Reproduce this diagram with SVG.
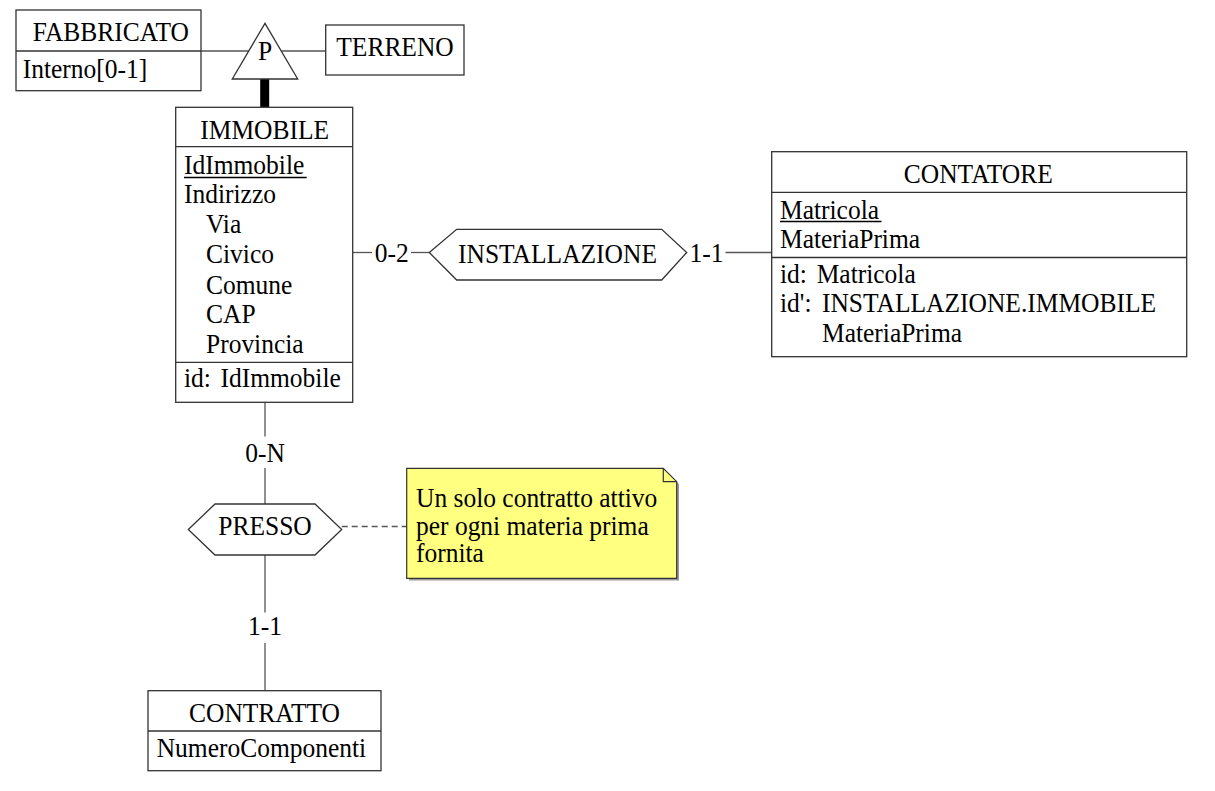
<svg xmlns="http://www.w3.org/2000/svg" width="1215" height="791" viewBox="0 0 1215 791">
<style>
text{font-family:"Liberation Serif","Times New Roman",serif;font-size:25.5px;fill:#000;transform-box:fill-box;transform-origin:50% 80%;transform:scaleY(1.08)}
.c{text-anchor:middle}
.box{fill:#fff;stroke:#333;stroke-width:1.3}
.div{stroke:#333;stroke-width:1.3}
.ln{stroke:#555;stroke-width:1.3;fill:none}
.u{stroke:#000;stroke-width:1.4}
</style>
<rect width="1215" height="791" fill="#fff"/>
<g id="connectors">
<line class="ln" x1="201" y1="51" x2="248.7" y2="51"/>
<line class="ln" x1="281.3" y1="51" x2="325.7" y2="51"/>
<line x1="264.7" y1="79" x2="264.7" y2="107.5" stroke="#000" stroke-width="9"/>
<line class="ln" x1="353" y1="252.5" x2="372" y2="252.5"/>
<line class="ln" x1="411" y1="252.5" x2="429.3" y2="252.5"/>
<text class="c" x="391.7" y="262.5">0-2</text>
<line class="ln" x1="725.5" y1="252.5" x2="771.7" y2="252.5"/>
<text class="c" x="706.5" y="262.5">1-1</text>
<line class="ln" x1="265" y1="402.3" x2="265" y2="436.5"/>
<line class="ln" x1="265" y1="468" x2="265" y2="504"/>
<text class="c" x="265" y="462">0-N</text>
<line class="ln" x1="265" y1="555" x2="265" y2="612.5"/>
<line class="ln" x1="265" y1="643" x2="265" y2="690.7"/>
<text class="c" x="265" y="635">1-1</text>
<line class="ln" x1="341.7" y1="526.5" x2="406.7" y2="526.5" stroke-dasharray="6,4"/>
</g>
<g id="FABBRICATO">
<rect class="box" x="16" y="10" width="185" height="80.7"/>
<line class="div" x1="16" y1="51" x2="201" y2="51"/>
<text class="c" x="110.8" y="40.7">FABBRICATO</text>
<text x="22.7" y="78.3">Interno[0-1]</text>
</g>
<g id="P">
<polygon class="box" points="265,23.3 297.7,79 232.3,79"/>
<text class="c" x="265" y="60">P</text>
</g>
<g id="TERRENO">
<rect class="box" x="325.7" y="25" width="138.3" height="50"/>
<text class="c" x="395" y="56">TERRENO</text>
</g>
<g id="IMMOBILE">
<rect class="box" x="175.7" y="107.3" width="177" height="295"/>
<line class="div" x1="175.7" y1="146.7" x2="352.7" y2="146.7"/>
<line class="div" x1="175.7" y1="362.3" x2="352.7" y2="362.3"/>
<text class="c" x="264.7" y="139">IMMOBILE</text>
<text x="184" y="174">IdImmobile</text>
<line class="u" x1="184" y1="177.5" x2="306.7" y2="177.5"/>
<text x="184" y="203">Indirizzo</text>
<text x="206" y="233">Via</text>
<text x="206" y="263">Civico</text>
<text x="206" y="294">Comune</text>
<text x="206" y="323">CAP</text>
<text x="206" y="353">Provincia</text>
<text x="184" y="387">id:</text>
<text x="220.5" y="387">IdImmobile</text>
</g>
<g id="INSTALLAZIONE">
<polygon class="box" points="429.3,252.5 456.7,229.3 661.7,229.3 686.7,252.5 661.7,280 456.7,280"/>
<text class="c" x="557.5" y="262.7">INSTALLAZIONE</text>
</g>
<g id="CONTATORE">
<rect class="box" x="771.7" y="151.7" width="415" height="205"/>
<line class="div" x1="771.7" y1="192.3" x2="1186.7" y2="192.3"/>
<line class="div" x1="771.7" y1="257.5" x2="1186.7" y2="257.5"/>
<text class="c" x="978.3" y="183">CONTATORE</text>
<text x="780" y="219">Matricola</text>
<line class="u" x1="780" y1="221.5" x2="881.5" y2="221.5"/>
<text x="780" y="248">MateriaPrima</text>
<text x="780" y="283">id:</text>
<text x="816.7" y="283">Matricola</text>
<text x="780" y="312">id':</text>
<text x="822" y="312">INSTALLAZIONE.IMMOBILE</text>
<text x="822" y="342">MateriaPrima</text>
</g>
<g id="PRESSO">
<polygon class="box" points="188.3,529.5 215,504 315,504 341.7,529.5 315,555 215,555"/>
<text class="c" x="265" y="535">PRESSO</text>
</g>
<g id="CONTRATTO">
<rect class="box" x="148" y="690.7" width="233" height="80"/>
<line class="div" x1="148" y1="731" x2="381" y2="731"/>
<text class="c" x="264.5" y="721.7">CONTRATTO</text>
<text x="156.7" y="757">NumeroComponenti</text>
</g>
<g id="note">
<polygon points="409,470.5 665.5,470.5 679,484 679,580.5 409,580.5" fill="#999"/>
<polygon points="406.7,468.3 663.3,468.3 676.7,481.7 676.7,578.3 406.7,578.3" fill="#ffff80" stroke="#333" stroke-width="1.2"/>
<polyline points="663.3,468.3 663.3,481.7 676.7,481.7" fill="none" stroke="#333" stroke-width="1.2"/>
<text x="416" y="506.7">Un solo contratto attivo</text>
<text x="416" y="535">per ogni materia prima</text>
<text x="416" y="561.7">fornita</text>
</g>
</svg>
